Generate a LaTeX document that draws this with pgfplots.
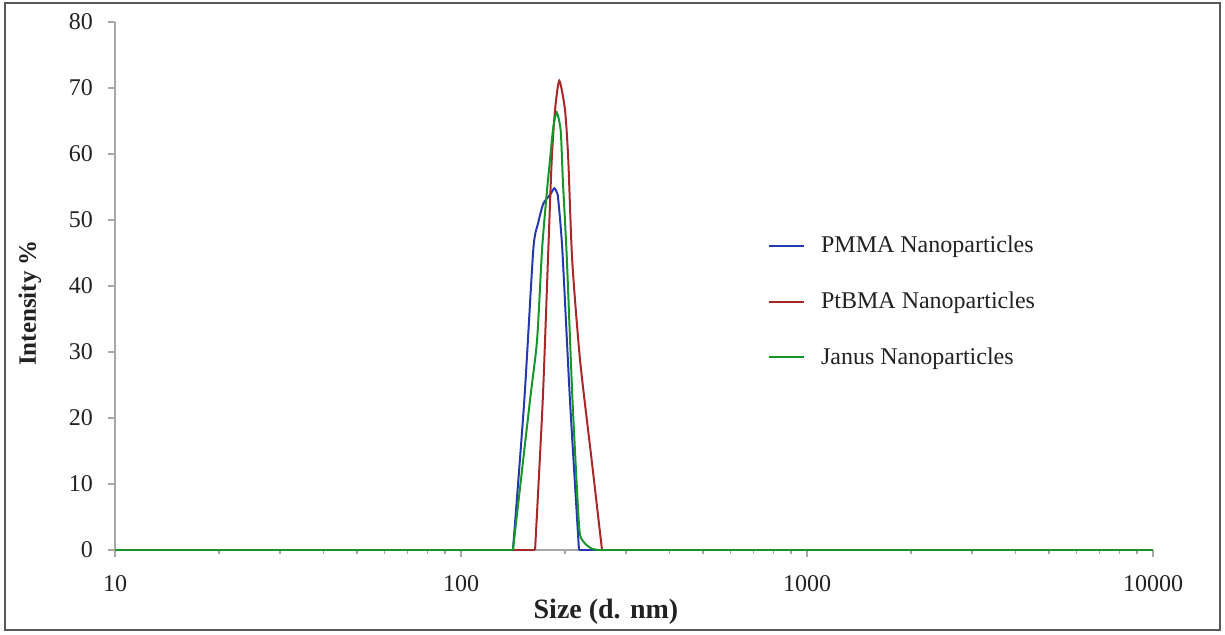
\documentclass[border=0pt]{standalone}
\usepackage{pgfplots}
\pgfplotsset{compat=1.18}
\usepackage{fontspec}
\setmainfont{Liberation Serif}
\definecolor{cblue}{HTML}{2438B0}
\definecolor{cred}{HTML}{A82828}
\definecolor{cgreen}{HTML}{16962A}
\definecolor{axgray}{HTML}{A8A8A8}
\definecolor{txt}{HTML}{222222}
\begin{document}
\begin{tikzpicture}
\useasboundingbox (-57.5pt,-42.5pt) rectangle (555pt,275pt);
\draw[line width=1.2pt, draw=black!65] (-55pt,-40pt) rectangle (552.5pt,273.5pt);
\begin{axis}[
  at={(0,0)}, anchor=south west,
  scale only axis, width=519pt, height=264pt,
  xmode=log, xmin=10, xmax=10000, ymin=0, ymax=80,
  axis x line*=bottom, axis y line*=left,
  axis line style={draw=axgray, line width=0.8pt, -},
  xtick={10,100,1000,10000}, xticklabels={10,100,1000,10000},
  minor xtick={20,30,40,50,60,70,80,90,200,300,400,500,600,700,800,900,2000,3000,4000,5000,6000,7000,8000,9000},
  ytick={0,10,20,30,40,50,60,70,80},
  yticklabels={0,10,20,30,40,50,60,70,80},
  tick style={draw=axgray, line width=0.7pt},
  tick align=outside,
  major tick length=3.5pt, minor tick length=2pt,
  ticklabel style={font=\fontsize{12}{14}\selectfont, text=txt},
  xticklabel style={yshift=-5.5pt},
  yticklabel style={xshift=-4pt},
  xlabel={\textbf{Size (d. nm)}},
  xlabel style={font=\fontsize{14}{16}\selectfont, text=txt, at={(axis description cs:0.473,0)}, anchor=center, yshift=-31pt},
  ylabel={\textbf{Intensity \%}},
  ylabel style={font=\fontsize{12.5}{14}\selectfont, text=txt, at={(axis description cs:-0.082,0.468)}, anchor=center},
  legend style={draw=none, fill=none, font=\fontsize{12}{14}\selectfont, text=txt,
    at={(axis description cs:0.623,0.61)}, anchor=north west,
    row sep=14pt, legend cell align=left},
  legend image code/.code={\draw[#1, line width=1pt] (0pt,0pt) -- (17.5pt,0pt); \path (23.5pt,0pt);},
  clip=false,
]
\addplot[cblue, line width=1pt, forget plot] coordinates {(10,0) (141.3,0)};
\addplot[cblue, line width=1pt, forget plot] coordinates {(219.3,0) (10000,0)};
\addplot[cblue, line width=1pt, smooth, tension=0.4] coordinates {
(141.3,0) (152.4,22.7) (161.8,45.5) (167,49.5) (173.0,52.5) (180.8,53.8) (186.1,54.8) (189.8,54) (191.1,53) (196.3,45.5) (206.5,22.7) (219.3,0)
};
\addlegendentry{PMMA Nanoparticles}
\addplot[cred, line width=1pt, forget plot] coordinates {(10,0) (163.7,0)};
\addplot[cred, line width=1pt, forget plot] coordinates {(255.6,0) (10000,0)};
\addplot[cred, line width=1pt, smooth, tension=0.4] coordinates {
(163.7,0) (172.3,22.7) (178.8,45.5) (182.9,59.1) (187,66.7) (192.4,71.1) (199.8,66.7) (204.2,59.1) (209.6,43.9) (220.8,28.8) (238.6,13.6) (255.6,0)
};
\addlegendentry{PtBMA Nanoparticles}
\addplot[cgreen, line width=1pt, forget plot] coordinates {(10,0) (141.3,0)};
\addplot[cgreen, line width=1pt, forget plot] coordinates {(248.9,0) (10000,0)};
\addplot[cgreen, line width=1pt, smooth, tension=0.4] coordinates {
(141.3,0) (158.3,22.7) (165.9,31.8) (171.5,45.5) (176.9,54) (180.8,59.1) (184.9,64.1) (189.1,66.3) (194.2,63.5) (197,56) (202.1,44.5) (210,22.7) (218,6) (221,2.2) (229,0.9) (239,0.2) (248.9,0)
};
\addlegendentry{Janus Nanoparticles}
\end{axis}
\end{tikzpicture}
\end{document}
